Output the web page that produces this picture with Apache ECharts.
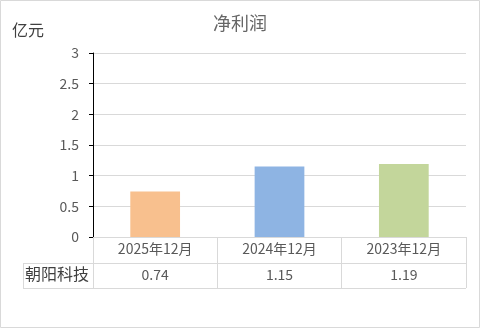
<!DOCTYPE html>
<html><head><meta charset="utf-8">
<script src="https://cdn.jsdelivr.net/npm/echarts@6/dist/echarts.min.js"></script>
<style>html,body{margin:0;padding:0;background:#fff}#c{width:480px;height:328px}</style>
</head><body><div id="c"></div>
<script>
const title = '净利润';
const unitLabel = '亿元';
const categories = ['2025年12月', '2024年12月', '2023年12月'];
const seriesName = '朝阳科技';
const netProfit = [0.74, 1.15, 1.19];
const barColors = ['#F8C08E', '#8EB4E3', '#C3D69B'];
const yTicks = { min: 0, max: 3, interval: 0.5 };

const FONT = '"Noto Sans CJK SC", "Noto Sans", sans-serif';
const G = { left: 93, right: 14, top: 53, bottom: 91 };
const W = 480, H = 328;
const gridBottomY = H - G.bottom;   // 237
const rowH = 26;
const tableLeft = 23;
const lineC = '#d9d9d9';

const chart = echarts.init(document.getElementById('c'), null, { renderer: 'canvas' });
chart.setOption({
  animation: false,
  textStyle: { fontFamily: FONT },
  title: {
    text: title, left: 'center', top: 9,
    textStyle: { fontSize: 18, fontWeight: 'normal', color: '#666666', fontFamily: FONT }
  },
  grid: { left: G.left, right: G.right, top: G.top, bottom: G.bottom },
  xAxis: [{
    type: 'category', data: categories, position: 'bottom',
    axisLine: { show: true, lineStyle: { color: lineC } },
    axisTick: { show: true, alignWithLabel: false, length: rowH * 2 - 1, lineStyle: { color: lineC } },
    axisLabel: { fontSize: 14, color: '#595959', margin: 5, fontFamily: FONT }
  }, {
    type: 'category', data: netProfit.map(v => v.toFixed(2)), position: 'bottom', offset: rowH,
    axisLine: { show: false },
    axisTick: { show: false },
    axisLabel: { fontSize: 14, color: '#595959', margin: 5, fontFamily: FONT }
  }],
  yAxis: {
    type: 'value', min: yTicks.min, max: yTicks.max, interval: yTicks.interval,
    axisLine: { show: true, lineStyle: { color: '#000', width: 1 } },
    axisTick: { show: true, length: 4, lineStyle: { color: '#000' } },
    splitLine: { show: true, lineStyle: { color: lineC } },
    axisLabel: { fontSize: 14, color: '#595959', margin: 14, fontFamily: FONT }
  },
  series: [{
    type: 'bar', name: seriesName, xAxisIndex: 0,
    data: netProfit.map((v, i) => ({ value: v, itemStyle: { color: barColors[i] } })),
    barWidth: '40%'
  }],
  graphic: [
    { type: 'rect', shape: { x: 0.5, y: 0.5, width: W - 1, height: H - 1 }, style: { fill: 'none', stroke: lineC, lineWidth: 1 }, silent: true },
    { type: 'text', left: 12, top: 22, style: { text: unitLabel, fontSize: 16, fill: '#404040', fontFamily: FONT } },
    { type: 'line', shape: { x1: tableLeft, y1: gridBottomY + rowH + 0.5, x2: W - G.right, y2: gridBottomY + rowH + 0.5 }, style: { stroke: lineC, lineWidth: 1 } },
    { type: 'line', shape: { x1: tableLeft, y1: gridBottomY + rowH * 2 - 0.5, x2: W - G.right, y2: gridBottomY + rowH * 2 - 0.5 }, style: { stroke: lineC, lineWidth: 1 } },
    { type: 'line', shape: { x1: tableLeft + 0.5, y1: gridBottomY + rowH, x2: tableLeft + 0.5, y2: gridBottomY + rowH * 2 }, style: { stroke: lineC, lineWidth: 1 } },
    { type: 'text', left: tableLeft + 2, top: gridBottomY + rowH + 3, style: { text: seriesName, fontSize: 16, fill: '#404040', fontFamily: FONT } }
  ]
});
</script></body></html>
